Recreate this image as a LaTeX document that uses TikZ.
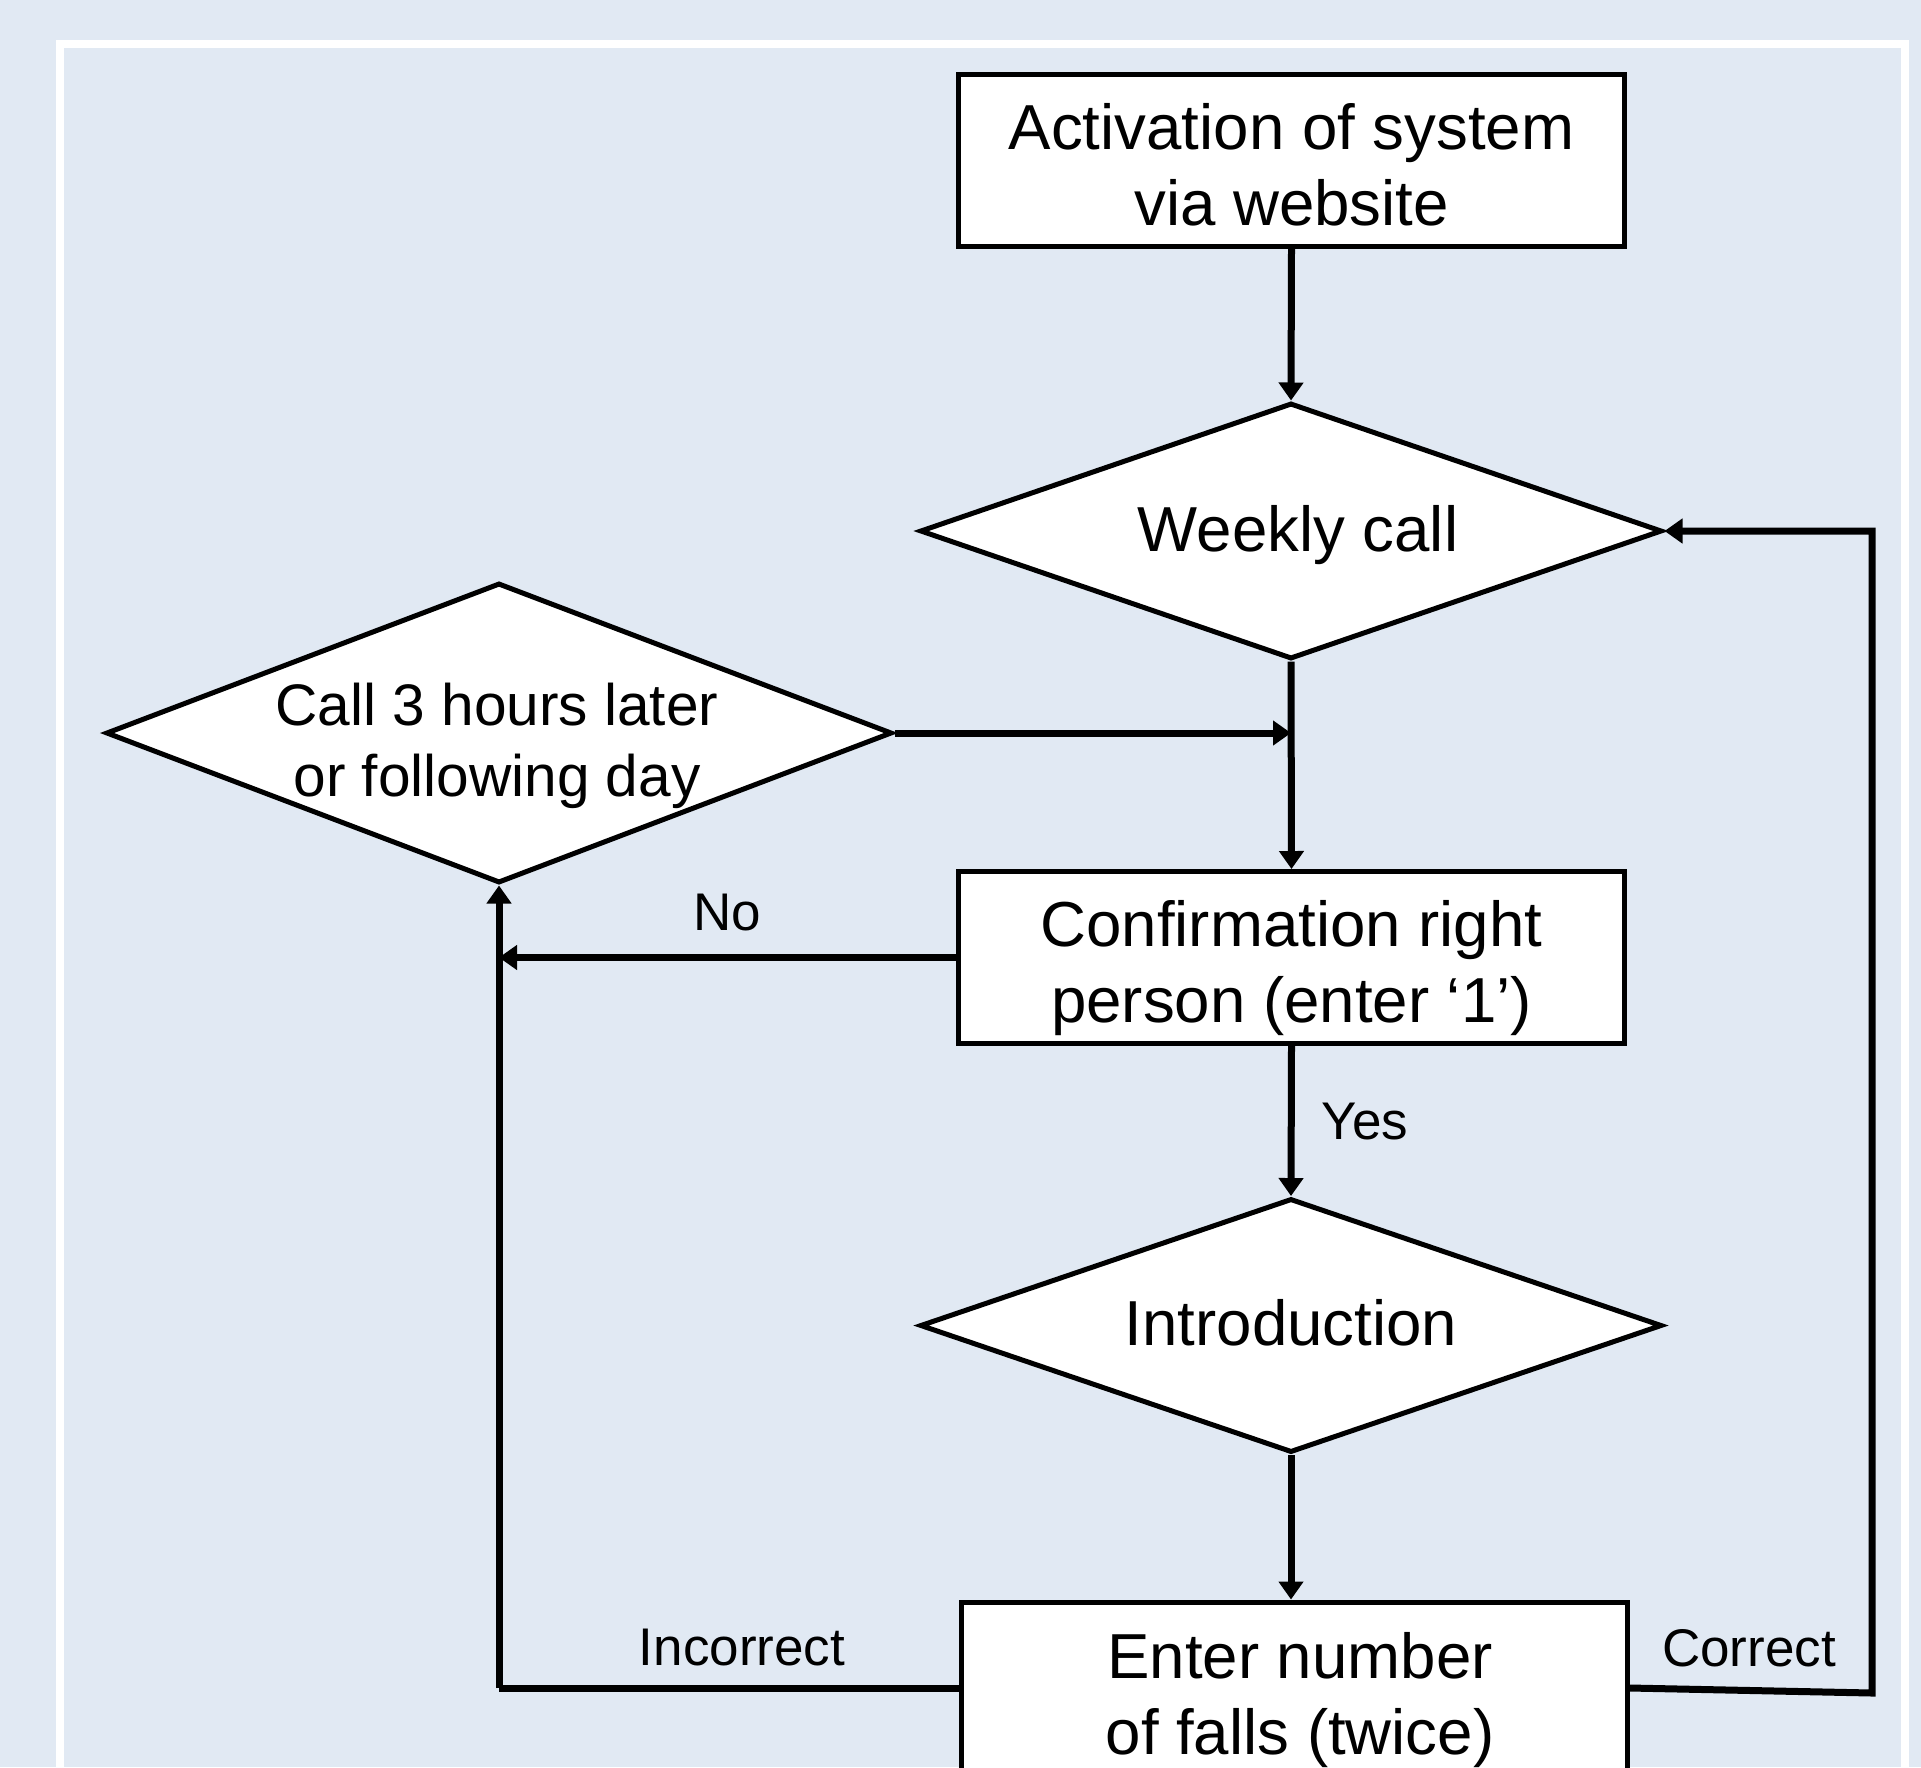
\documentclass[tikz,border=0pt]{standalone}
\usepackage{fontspec}
\setmainfont{Liberation Sans}
\usetikzlibrary{arrows.meta,shapes.geometric}
\definecolor{bg}{HTML}{E1E9F3}
\begin{document}
\begin{tikzpicture}[x=0.5pt,y=-0.5pt,
  box/.style={draw=black, fill=white, line width=2.5pt, minimum width=333pt, minimum height=86pt, inner sep=0pt},
  dia/.style={draw=black, fill=white, line width=2.5pt, diamond, inner sep=0pt},
  bigtxt/.style={align=center, inner sep=0pt, font=\fontsize{31.8}{38}\selectfont},
  midtxt/.style={align=center, inner sep=0pt, font=\fontsize{29.3}{35.5}\selectfont},
  conn/.style={line width=3.5pt, -{Triangle[length=9pt,width=12pt]}},
  plainconn/.style={line width=3.5pt},
  lab/.style={inner sep=0pt, font=\fontsize{26.5}{32}\selectfont}
]
\useasboundingbox (0,0) rectangle (1921,1767);
\fill[bg] (0,0) rectangle (1921,1767);
\begin{scope}
\clip (0,0) rectangle (1921,1767);
\draw[white, line width=4pt] (60,44) rectangle (1904.5,1900);

% nodes
\node[box] (act) at (1291.5,160) {};
\node[bigtxt] (acttxt) at (1291.5,165) {Activation of system\\via website};
\node[dia, minimum width=371pt, minimum height=128pt] (week) at (1291,531) {};
\node[bigtxt] (weektxt) at (1298,535) {Weekly call};
\node[dia, minimum width=393pt, minimum height=150pt] (later) at (499,733) {};
\node[midtxt] (latertxt) at (497,746) {Call 3 hours later\\or following day};
\node[box] (conf) at (1291.5,957.5) {};
\node[bigtxt] (conftxt) at (1291.5,968) {Confirmation right\\person (enter ‘1’)};
\node[dia, minimum width=371pt, minimum height=127pt] (intro) at (1291,1325.5) {};
\node[bigtxt] (introtxt) at (1291,1323) {Introduction};
\node[box] (enter) at (1294.5,1688) {};
\node[bigtxt] (entertxt) at (1300,1700) {Enter number\\of falls (twice)};

% connectors
\draw[conn] (act.south) -- (week.north);
\draw[conn] (week.south) -- (conf.north);
\coordinate (join) at (week.south |- later.east);
\draw[conn] (later.east) -- (join);
\coordinate (nocorner) at (later.south |- conf.west);
\draw[conn] (conf.west) -- (nocorner);
\draw[conn] (conf.south) -- (intro.north);
\draw[conn] (intro.south) -- (intro.south |- enter.north);
\coordinate (inccorner) at (later.south |- enter.west);
\draw[plainconn] (enter.west) -- (inccorner);
\draw[conn] (inccorner) -- (later.south);
\coordinate (corcorner) at (1872,1693);
\draw[conn] (enter.east) -- (corcorner) |- (week.east);

% labels
\node[lab] (no) at (727,913) {No};
\node[lab] (yes) at (1365,1122) {Yes};
\node[lab] (inc) at (742,1648) {Incorrect};
\node[lab] (cor) at (1749,1648) {Correct};
\end{scope}
\end{tikzpicture}
\end{document}
